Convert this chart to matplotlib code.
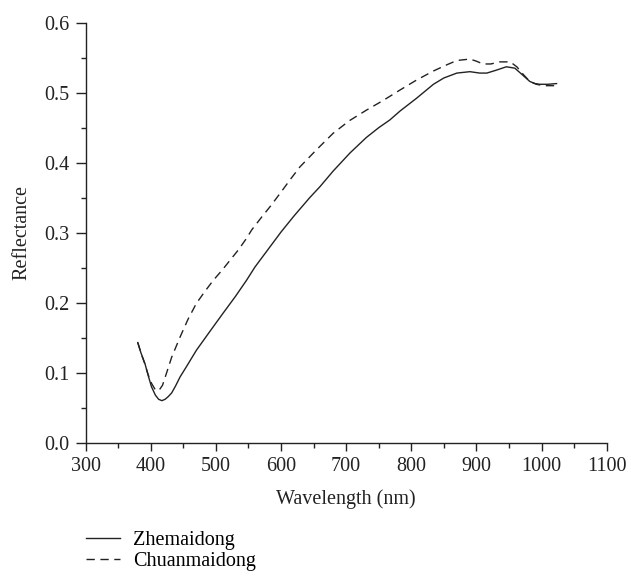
import matplotlib
matplotlib.use("Agg")
import matplotlib.pyplot as plt
from matplotlib.ticker import MultipleLocator

plt.rcParams['font.family'] = ['Liberation Serif', 'DejaVu Serif']

# Zhemaidong (solid)
zhe_wl = [380, 385, 391, 396, 401, 407, 412, 417, 422, 427, 432, 438, 445, 455, 470,
          490, 511, 530, 547, 560, 580, 600, 620, 644, 660, 680, 706, 731, 750, 767,
          783, 808, 834, 850, 870, 890, 905, 916, 930, 946, 959, 970, 982, 990, 997,
          1010, 1023]
zhe_ref = [0.143, 0.128, 0.113, 0.096, 0.080, 0.068, 0.062, 0.060, 0.062, 0.066, 0.071,
           0.081, 0.094, 0.109, 0.132, 0.158, 0.185, 0.209, 0.232, 0.251, 0.276, 0.301,
           0.324, 0.350, 0.366, 0.388, 0.414, 0.436, 0.450, 0.461, 0.474, 0.492, 0.512,
           0.521, 0.528, 0.530, 0.528, 0.528, 0.532, 0.537, 0.535, 0.526, 0.516, 0.513,
           0.512, 0.512, 0.513]

# Chuanmaidong (dashed)
chu_wl = [380, 385, 391, 396, 401, 406, 412, 418, 424, 432, 445, 457, 470, 483, 496,
          510, 522, 535, 547, 555, 570, 583, 600, 615, 629, 655, 680, 705, 731, 757,
          783, 808, 834, 855, 870, 890, 900, 910, 922, 936, 952, 962, 972, 982, 992,
          1003, 1013, 1023]
chu_ref = [0.143, 0.128, 0.112, 0.097, 0.085, 0.077, 0.074, 0.082, 0.099, 0.122, 0.151,
           0.176, 0.199, 0.216, 0.232, 0.247, 0.261, 0.276, 0.292, 0.304, 0.322, 0.337,
           0.358, 0.377, 0.394, 0.419, 0.442, 0.460, 0.475, 0.489, 0.504, 0.518, 0.531,
           0.540, 0.546, 0.548, 0.545, 0.541, 0.541, 0.544, 0.544, 0.537, 0.526, 0.516,
           0.512, 0.510, 0.510, 0.510]

fig = plt.figure(figsize=(6.29, 5.77), dpi=100)
ax = fig.add_axes([0.1362, 0.2328, 0.8283, 0.7279])

c = '#222222'
fs = 14.5
ax.plot(zhe_wl, zhe_ref, color=c, lw=1.0, label='Zhemaidong')
ax.plot(chu_wl, chu_ref, color=c, lw=1.0, ls=(0, (6, 4)), label='Chuanmaidong')

ax.set_xlim(300, 1100)
ax.set_ylim(0.0, 0.6)
ax.xaxis.set_major_locator(MultipleLocator(100))
ax.xaxis.set_minor_locator(MultipleLocator(50))
ax.yaxis.set_major_locator(MultipleLocator(0.1))
ax.yaxis.set_minor_locator(MultipleLocator(0.05))
ax.yaxis.set_major_formatter(matplotlib.ticker.FormatStrFormatter('%.1f'))

for s in ['top', 'right']:
    ax.spines[s].set_visible(False)
for s in ['left', 'bottom']:
    ax.spines[s].set_linewidth(1.0)
    ax.spines[s].set_color(c)

ax.tick_params(axis='both', which='major', direction='out', length=6, width=1.0,
               labelsize=fs, colors=c, pad=4)
ax.tick_params(axis='both', which='minor', direction='out', length=3.5, width=1.0, colors=c)
ax.tick_params(axis='y', which='major', length=7, pad=5)

ax.set_xlabel('Wavelength (nm)', fontsize=fs, color=c, labelpad=10)
ax.set_ylabel('Reflectance', fontsize=fs, color=c, labelpad=9)

fig.legend(loc='upper left', bbox_to_anchor=(0.136, 0.080), frameon=False,
           fontsize=fs, handlelength=1.7, handletextpad=0.65, labelspacing=0.1,
           borderaxespad=0, borderpad=0)

fig.savefig('out.png', dpi=100)
